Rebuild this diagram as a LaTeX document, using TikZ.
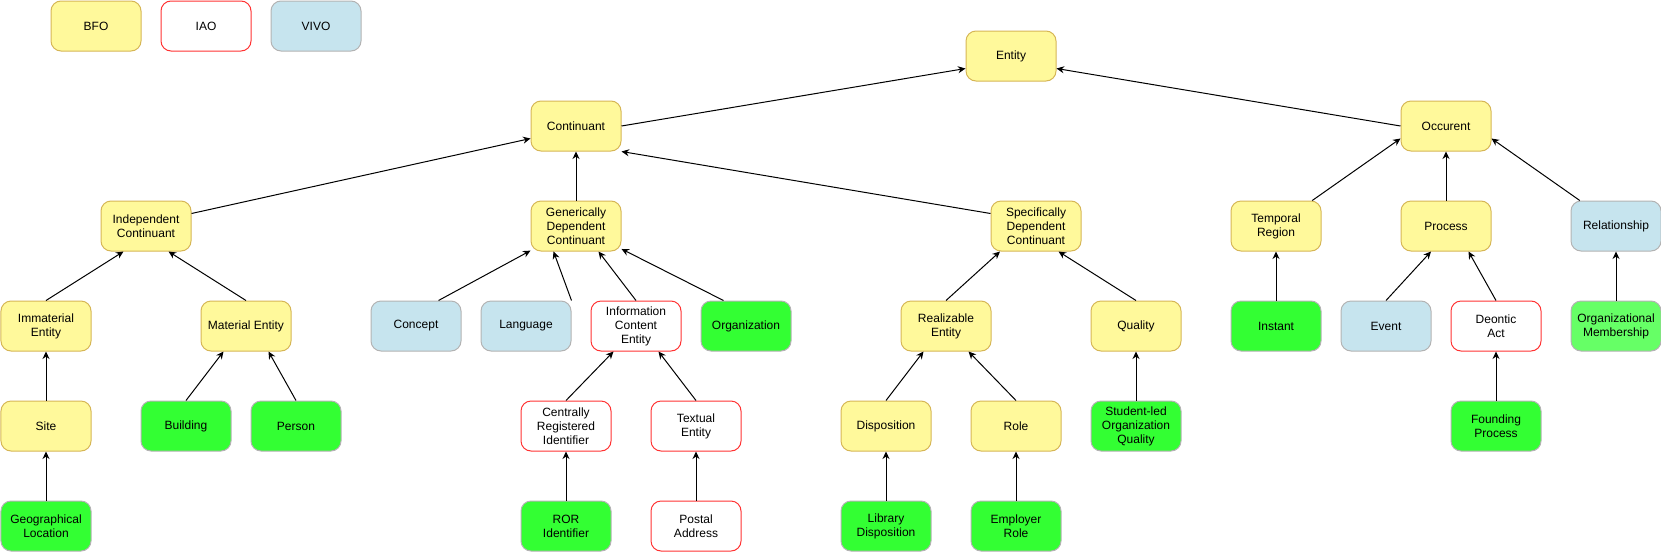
\documentclass[tikz,border=0pt]{standalone}
\usepackage{fontspec}
\setmainfont{Liberation Sans}
\usetikzlibrary{arrows.meta}
\definecolor{bfofill}{HTML}{FFF99B}
\definecolor{bfoline}{HTML}{D6B656}
\definecolor{vivofill}{HTML}{C6E4EE}
\definecolor{greyline}{HTML}{B3B3B3}
\definecolor{iaoline}{HTML}{FF3333}
\definecolor{extfill}{HTML}{33FF33}
\definecolor{extlfill}{HTML}{66FF66}
\tikzset{
	cls/.style={rounded corners=10pt, minimum width=90pt, minimum height=50pt, inner sep=0pt, align=center, line width=1pt, font=\fontsize{12}{14}\selectfont},
	bfo/.style={cls, draw=bfoline, fill=bfofill},
	iao/.style={cls, draw=iaoline, fill=white},
	vivo/.style={cls, draw=greyline, fill=vivofill},
	ext/.style={cls, draw=greyline, fill=extfill},
	extl/.style={cls, draw=greyline, fill=extlfill},
	isa/.style={line width=1pt, -{Stealth[length=7.5pt,width=7pt]}}
}
\begin{document}
\begin{tikzpicture}[x=1pt, y=-1pt]
	\useasboundingbox (-1,-1) rectangle (1660,551);
	% legend
	\node[bfo] (legbfo) at (95,25) {BFO};
	\node[iao] (legiao) at (205,25) {IAO};
	\node[vivo] (legvivo) at (315,25) {VIVO};
	% top
	\node[bfo] (entity) at (1010,55) {Entity};
	\node[bfo] (cont) at (575,125) {Continuant};
	\node[bfo] (occ) at (1445,125) {Occurent};
	% second level
	\node[bfo] (ic) at (145,225) {Independent\\Continuant};
	\node[bfo] (gdc) at (575,225) {Generically\\Dependent\\Continuant};
	\node[bfo] (sdc) at (1035,225) {Specifically\\Dependent\\Continuant};
	\node[bfo] (tr) at (1275,225) {Temporal\\Region};
	\node[bfo] (proc) at (1445,225) {Process};
	\node[vivo] (rel) at (1615,225) {Relationship};
	% third level
	\node[bfo] (imm) at (45,325) {Immaterial\\Entity};
	\node[bfo] (mat) at (245,325) {Material Entity};
	\node[vivo] (concept) at (415,325) {Concept};
	\node[vivo] (lang) at (525,325) {Language};
	\node[iao] (ice) at (635,325) {Information\\Content\\Entity};
	\node[ext] (org) at (745,325) {Organization};
	\node[bfo] (real) at (945,325) {Realizable\\Entity};
	\node[bfo] (qual) at (1135,325) {Quality};
	\node[ext] (instant) at (1275,325) {Instant};
	\node[vivo] (event) at (1385,325) {Event};
	\node[iao] (deontic) at (1495,325) {Deontic\\Act};
	\node[extl] (orgmem) at (1615,325) {Organizational\\Membership};
	% fourth level
	\node[bfo] (site) at (45,425) {Site};
	\node[ext] (bld) at (185,425) {Building};
	\node[ext] (person) at (295,425) {Person};
	\node[iao] (cri) at (565,425) {Centrally\\Registered\\Identifier};
	\node[iao] (textual) at (695,425) {Textual\\Entity};
	\node[bfo] (disp) at (885,425) {Disposition};
	\node[bfo] (role) at (1015,425) {Role};
	\node[ext] (student) at (1135,425) {Student-led\\Organization\\Quality};
	\node[ext] (founding) at (1495,425) {Founding\\Process};
	% fifth level
	\node[ext] (geo) at (45,525) {Geographical\\Location};
	\node[ext] (ror) at (565,525) {ROR\\Identifier};
	\node[iao] (postal) at (695,525) {Postal\\Address};
	\node[ext] (lib) at (885,525) {Library\\Disposition};
	\node[ext] (emp) at (1015,525) {Employer\\Role};
	% subclass links
	\draw[isa] (cont.east) -- ([yshift=-12.5pt]entity.west);
	\draw[isa] (occ.west) -- ([yshift=-12.5pt]entity.east);
	\draw[isa] ([yshift=12.5pt]ic.east) -- ([yshift=-12.5pt]cont.west);
	\draw[isa] (gdc.north) -- (cont.south);
	\draw[isa] ([yshift=12.5pt]sdc.west) -- (cont.south east);
	\draw[isa] (tr) -- ([yshift=-12.5pt]occ.west);
	\draw[isa] (proc.north) -- (occ.south);
	\draw[isa] (rel) -- ([yshift=-12.5pt]occ.east);
	\draw[isa] (imm.north) -- ([xshift=-22.5pt]ic.south);
	\draw[isa] (mat.north) -- ([xshift=22.5pt]ic.south);
	\draw[isa] (site.north) -- (imm.south);
	\draw[isa] (geo.north) -- (site.south);
	\draw[isa] (bld.north) -- ([xshift=-22.5pt]mat.south);
	\draw[isa] (person.north) -- ([xshift=22.5pt]mat.south);
	\draw[isa] ([xshift=22.5pt]concept.north) -- (gdc);
	\draw[isa] (lang.north east) -- ([xshift=-22.5pt]gdc.south);
	\draw[isa] (ice.north) -- ([xshift=22.5pt]gdc.south);
	\draw[isa] ([xshift=-22.5pt]org.north) -- (gdc);
	\draw[isa] (cri.north) -- ([xshift=-22.5pt]ice.south);
	\draw[isa] (textual.north) -- ([xshift=22.5pt]ice.south);
	\draw[isa] (ror.north) -- (cri.south);
	\draw[isa] (postal.north) -- (textual.south);
	\draw[isa] (real.north) -- ([xshift=-36pt]sdc.south);
	\draw[isa] (qual.north) -- ([xshift=22.5pt]sdc.south);
	\draw[isa] (disp.north) -- ([xshift=-22.5pt]real.south);
	\draw[isa] (role.north) -- ([xshift=22.5pt]real.south);
	\draw[isa] (lib.north) -- (disp.south);
	\draw[isa] (emp.north) -- (role.south);
	\draw[isa] (student.north) -- (qual.south);
	\draw[isa] (instant.north) -- (tr.south);
	\draw[isa] (event.north) -- ([xshift=-15pt]proc.south);
	\draw[isa] (deontic.north) -- ([xshift=22.5pt]proc.south);
	\draw[isa] (founding.north) -- (deontic.south);
	\draw[isa] (orgmem.north) -- (rel.south);
\end{tikzpicture}
\end{document}
